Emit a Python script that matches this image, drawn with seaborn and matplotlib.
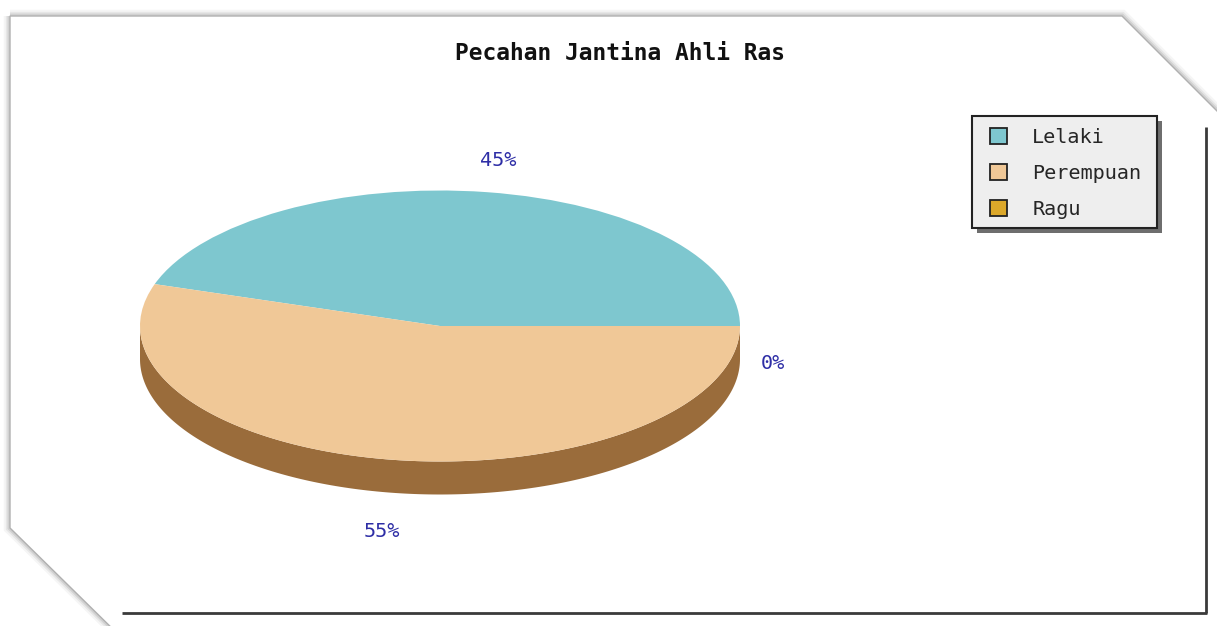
import numpy as np
import matplotlib
matplotlib.use("Agg")
import matplotlib.pyplot as plt
from matplotlib.patches import Polygon, Patch, Rectangle
import seaborn as sns

# Data
categories = ["Lelaki", "Perempuan", "Ragu"]
values = [45, 55, 0]
pct_labels = ["45%", "55%", "0%"]
title = "Pecahan Jantina Ahli Ras"

top_colors = ["#7ec7cf", "#f0c897", "#dca82a"]
side_colors = ["#4f9aa2", "#9a6c3b", "#a57b12"]
label_color = "#2e2ea6"

sns.set_theme(style="white")
plt.rcParams["font.family"] = ["DejaVu Sans Mono", "DejaVu Sans"]

W, H, DPI = 1217, 626, 100
fig = plt.figure(figsize=(W / DPI, H / DPI), dpi=DPI, facecolor="white")

# Background axes in pixel coordinates for the framed panel
bg = fig.add_axes([0, 0, 1, 1])
bg.set_xlim(0, W)
bg.set_ylim(H, 0)
bg.axis("off")

panel = [(10, 16), (1122, 16), (1230, 124), (1230, 640), (124, 640), (10, 528)]
for lw, a in [(9, 0.04), (6, 0.06), (3.5, 0.09)]:
    bg.add_patch(Polygon(panel, closed=True, fill=False, edgecolor="#000000",
                         lw=lw, alpha=a, joinstyle="miter"))
bg.add_patch(Polygon(panel, closed=True, facecolor="white", edgecolor="#b0b0b0", lw=1.0))
# dark plot-area edges on the right and bottom
bg.plot([1206, 1206], [127, 613], color="#3a3a3a", lw=2.0, solid_capstyle="butt")
bg.plot([122, 1207], [613, 613], color="#3a3a3a", lw=2.0, solid_capstyle="butt")

bg.text(620, 53, title, ha="center", va="center", fontsize=16.5,
        fontweight="bold", color="#111111")

# Pie axes: unit circle maps to the ellipse (rx=300 px, ry=135.5 px)
cx, cy, rx, ry = 440, 326, 300, 135.5
xl, yl = (-1.3, 1.3), (-1.6, 1.4)
axw = (xl[1] - xl[0]) * rx
axh = (yl[1] - yl[0]) * ry
left = cx + xl[0] * rx
bottom = (H - cy) + yl[0] * ry
ax = fig.add_axes([left / W, bottom / H, axw / W, axh / H])

depth = 33 / ry
total = float(sum(values))
fracs = [v / total for v in values]
starts = np.cumsum([0] + fracs[:-1]) * 360.0

# side walls (front half only)
for f, s, sc in zip(fracs, starts, side_colors):
    e = s + f * 360.0
    a0, a1 = max(s, 180.0), min(e, 360.0)
    if a1 <= a0:
        continue
    th = np.radians(np.linspace(a0, a1, 200))
    top = np.column_stack([np.cos(th), np.sin(th)])
    bot = np.column_stack([np.cos(th[::-1]), np.sin(th[::-1]) - depth])
    ax.add_patch(Polygon(np.vstack([top, bot]), closed=True, facecolor=sc,
                         edgecolor="none", zorder=1, clip_on=False))

wedges, _ = ax.pie(values, colors=top_colors, startangle=0, counterclock=True,
                   radius=1.0, frame=True,
                   wedgeprops=dict(linewidth=0, edgecolor="none", zorder=2))
ax.set_aspect("auto")
ax.set_xlim(*xl)
ax.set_ylim(*yl)
ax.axis("off")

# percentage labels outside the slices
for f, s, lab in zip(fracs, starts, pct_labels):
    mid = np.radians(s + f * 180.0)
    r = 1.24
    x = r * np.cos(mid)
    y = r * np.sin(mid)
    if np.sin(mid) < -0.01:
        y -= depth + 0.05
    if f == 0:
        x, y = 1.11, -0.28
    ax.text(x, y, lab, ha="center", va="center", fontsize=14.5,
            color=label_color, clip_on=False, zorder=5)

# legend box with offset shadow
bx0, by0, bx1, by1 = 972, 116, 1157, 228
bg.add_patch(Rectangle((bx0 + 5, by0 + 5), bx1 - bx0, by1 - by0,
                       facecolor="#555555", edgecolor="none", alpha=0.85, zorder=3))
bg.add_patch(Rectangle((bx0, by0), bx1 - bx0, by1 - by0,
                       facecolor="#eeeeee", edgecolor="#222222", lw=1.5, zorder=4))

handles = [Patch(facecolor=c, edgecolor="#222222", lw=1.3) for c in top_colors]
leg = fig.legend(handles, categories, loc="upper left",
                 bbox_to_anchor=(990 / W, 1 - 128 / H), borderaxespad=0,
                 fontsize=14.5, handlelength=0.85, handleheight=0.85,
                 handletextpad=1.25, labelspacing=0.85, borderpad=0,
                 frameon=False)
leg.set_zorder(6)

fig.savefig("out.png", dpi=DPI, facecolor="white")
